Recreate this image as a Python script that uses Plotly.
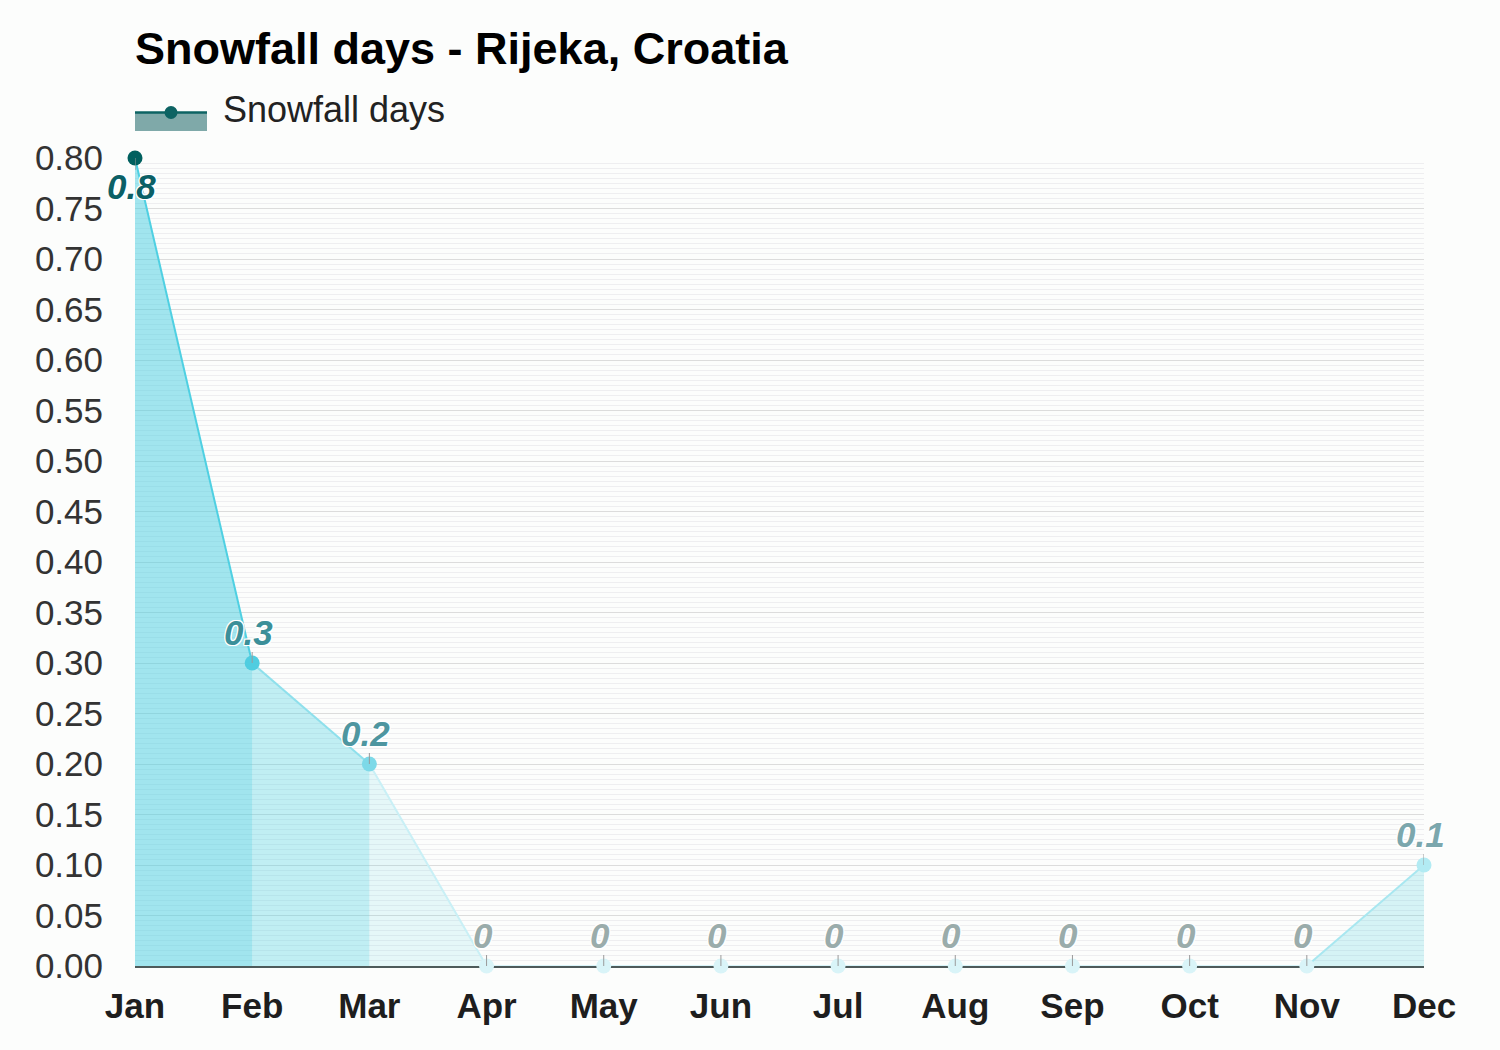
import plotly.graph_objects as go

months = ["Jan", "Feb", "Mar", "Apr", "May", "Jun", "Jul", "Aug", "Sep", "Oct", "Nov", "Dec"]
snow_days = [0.8, 0.3, 0.2, 0, 0, 0, 0, 0, 0, 0, 0, 0.1]
labels = ["0.8", "0.3", "0.2", "0", "0", "0", "0", "0", "0", "0", "0", "0.1"]

# styles
seg_fill = ["rgba(77,208,225,0.52)", "rgba(77,208,225,0.34)", "rgba(77,208,225,0.13)"] + \
           ["rgba(77,208,225,0.10)"] * 7 + ["rgba(77,208,225,0.22)"]
seg_line = ["#4fd0e2", "#8fe0ec", "#c9f0f6"] + ["#d8f4f9"] * 7 + ["#a8e7f0"]
marker_col = {0.8: "#00605f", 0.3: "#4fcde0", 0.2: "#7dd9e8", 0.1: "#b2ebf3", 0: "#d9f4f8"}
label_col = {0.8: "#0b6066", 0.3: "#3b8f99", 0.2: "#4e96a0", 0.1: "#7ba7ad", 0: "#9aacab"}

FONT = "Liberation Sans, Arial, sans-serif"
x = list(range(len(months)))

fig = go.Figure()

# segment fills and lines
for i in range(len(months) - 1):
    fig.add_trace(go.Scatter(
        x=[x[i], x[i + 1], x[i + 1], x[i], x[i]],
        y=[snow_days[i], snow_days[i + 1], 0, 0, snow_days[i]],
        fill="toself", fillcolor=seg_fill[i], mode="none",
        hoverinfo="skip", showlegend=False))
for i in range(len(months) - 1):
    fig.add_trace(go.Scatter(
        x=[x[i], x[i + 1]], y=[snow_days[i], snow_days[i + 1]],
        mode="lines", line=dict(color=seg_line[i], width=2),
        hoverinfo="skip", showlegend=False, cliponaxis=False))

fig.add_trace(go.Scatter(
    x=x, y=snow_days, mode="markers", name="Snowfall days",
    marker=dict(size=15, color=[marker_col[v] for v in snow_days]),
    showlegend=False, cliponaxis=False))

shadow = "-1px -1px 0 #fff, 1px -1px 0 #fff, -1px 1px 0 #fff, 1px 1px 0 #fff, 0 1px 0 #fff, 0 -1px 0 #fff, 1px 0 0 #fff, -1px 0 0 #fff"
ymax = max(snow_days)
for i, (v, t) in enumerate(zip(snow_days, labels)):
    below = v >= ymax
    fig.add_annotation(
        x=x[i], y=v, text=t, showarrow=False, xanchor="center", yanchor="middle",
        xshift=-4, yshift=-28 if below else 31,
        font=dict(family=FONT, size=35, color=label_col[v], weight="bold", style="italic",
                  shadow=shadow))
    fig.add_shape(type="line", xref="x", yref="y", ysizemode="pixel", yanchor=v,
                  x0=x[i], x1=x[i], y0=0, y1=-12 if below else 11,
                  line=dict(color="#9a9a9a", width=1))

# manual legend
W, H = 1500, 1050
L, R, T, B = 135, 76, 158, 84
pw, ph = W - L - R, H - T - B
def px(p):
    return (p - L) / pw
def py(p):
    return (H - B - p) / ph

fig.add_shape(type="rect", xref="paper", yref="paper", x0=px(135), x1=px(207), y0=py(131), y1=py(112),
              fillcolor="#7fa9a9", line=dict(width=0))
fig.add_shape(type="line", xref="paper", yref="paper", x0=px(135), x1=px(207), y0=py(112.5), y1=py(112.5),
              line=dict(color="#0d6363", width=2.5))
fig.add_shape(type="circle", xref="paper", yref="paper", x0=px(164.5), x1=px(177.5), y0=py(119), y1=py(106),
              fillcolor="#0d6363", line=dict(width=0))
fig.add_annotation(xref="paper", yref="paper", x=px(221), y=py(110), text="Snowfall days",
                   showarrow=False, xanchor="left", yanchor="middle",
                   font=dict(family=FONT, size=36, color="#222"))

fig.update_layout(
    width=W, height=H,
    margin=dict(l=L, r=R, t=T, b=B),
    paper_bgcolor="#fcfdfc", plot_bgcolor="#fcfdfc",
    title=dict(text="Snowfall days - Rijeka, Croatia", x=L / W, xanchor="left",
               y=1 - 48 / H, yanchor="middle",
               font=dict(family=FONT, size=45, color="#000", weight="bold")),
    showlegend=False,
    xaxis=dict(range=[0, 11], tickmode="array", tickvals=x, ticktext=months,
               showgrid=False, zeroline=False, showline=True, linecolor="#4d5a5a", linewidth=1.5,
               layer="below traces",
               ticks="", ticklabelstandoff=8,
               tickfont=dict(family=FONT, size=35, color="#1e1e1e", weight="bold")),
    yaxis=dict(range=[0, 0.8], dtick=0.05, tickformat=".2f", showgrid=True,
               gridcolor="#dcdcdc", gridwidth=1, zeroline=False, showline=False,
               ticks="", ticklabelstandoff=31,
               minor=dict(dtick=0.005, showgrid=True, gridcolor="#eeeef0", gridwidth=1),
               tickfont=dict(family=FONT, size=35, color="#333")),
)

fig.write_html("out.html", config={"displayModeBar": False},
               post_script="document.body.style.margin='0';document.body.style.background='#fcfdfc';")
